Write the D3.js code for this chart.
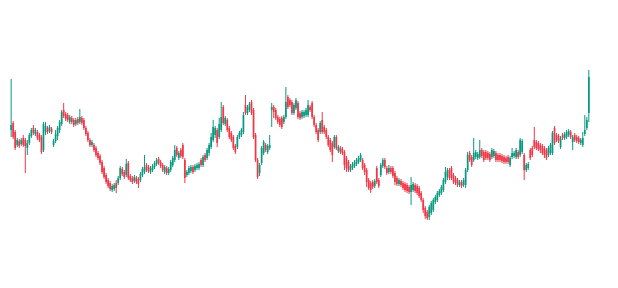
<!DOCTYPE html>
<html>
<head>
<meta charset="utf-8">
<script src="https://cdn.jsdelivr.net/npm/d3@7"></script>
<style>
  body { margin: 0; background: #ffffff; }
</style>
</head>
<body>
<svg></svg>
<script>
//candle values (open, high, low, close)
var open = [120,127,118,105,109,106,112,110,102,107,114,122,116,118,115,113,100,118,122,119,121,105,109,114,120,126,140,136,135,128,
  132,130,126,131,128,132,130,122,117,110,105,105,102,97,94,88,82,75,70,67,60,61,67,67,72,81,78,75,87,74,
  72,69,72,71,70,75,78,85,83,78,80,83,86,91,88,85,78,82,77,80,85,90,102,92,100,105,90,75,77,79,
  83,80,82,82,90,85,95,92,97,103,110,115,120,113,120,143,126,130,122,117,113,104,103,113,115,118,145,137,140,148,
  140,115,90,77,87,97,105,98,102,140,143,140,133,131,132,128,133,153,150,148,137,142,147,137,133,134,135,135,143,147,
  133,125,120,118,130,123,120,113,110,107,103,113,99,102,101,98,92,88,80,82,84,86,88,90,90,85,80,70,67,68,
  64,82,70,75,84,90,82,78,82,82,77,72,66,69,67,66,65,63,58,60,65,64,62,57,50,42,38,33,37,40,
  48,50,55,57,60,68,73,80,82,75,72,70,65,68,65,65,80,97,93,90,93,92,93,100,98,98,97,96,93,94,
  97,95,95,94,93,92,93,85,93,94,93,98,95,98,95,80,82,100,102,110,108,107,105,104,102,100,95,97,97,122,
  115,114,103,115,112,113,115,118,108,115,113,112,107,105,116,122,137];
var high = [171,129,120,112,111,112,115,112,110,117,122,125,122,120,117,115,128,128,124,125,123,111,120,124,130,140,147,138,137,135,
  134,132,132,133,141,134,132,124,119,112,110,107,104,99,96,90,84,77,72,69,66,67,70,74,84,83,80,91,89,76,
  74,75,74,73,78,83,95,87,85,84,86,89,92,93,90,87,85,84,83,90,94,105,104,99,102,107,92,80,84,85,
  85,86,87,88,92,95,97,102,107,117,130,124,122,132,148,145,134,132,124,119,115,106,115,119,122,138,155,145,148,150,
  142,117,92,87,104,110,107,106,115,147,145,142,135,133,134,135,163,155,152,150,147,152,149,139,140,140,142,150,145,149,
  135,127,122,129,138,125,122,115,112,109,115,115,105,104,103,100,94,90,86,88,90,92,94,97,92,87,82,72,69,70,
  71,84,72,87,92,92,84,85,84,84,79,74,72,71,69,68,67,65,73,68,67,66,64,59,52,44,40,45,49,52,
  55,59,61,65,72,83,82,82,84,77,74,72,70,70,72,82,98,99,95,112,100,98,110,102,100,100,99,98,102,101,
  99,97,97,96,95,94,95,94,102,99,102,100,112,111,97,87,88,102,104,123,110,109,107,106,104,102,104,107,119,124,
  117,116,114,117,118,120,121,120,115,117,115,114,112,118,135,133,180];
var low = [113,111,100,103,102,104,103,77,95,105,112,115,114,110,108,96,98,115,116,117,116,103,107,110,117,124,132,129,128,126,
  126,123,124,125,126,125,120,114,108,103,103,98,93,90,85,76,71,66,62,59,58,59,57,65,70,74,71,73,70,68,
  66,67,66,62,68,73,76,78,77,76,78,81,84,85,82,78,76,75,75,78,83,88,93,90,92,91,67,73,75,77,
  76,78,80,80,83,83,88,90,94,101,108,112,103,111,118,125,124,118,111,108,100,96,101,111,113,116,135,135,138,135,
  111,88,71,74,85,95,98,96,100,123,132,130,126,123,121,126,131,141,143,135,135,140,131,130,131,132,133,133,138,131,
  123,116,108,116,116,116,111,103,98,88,101,100,97,96,95,80,78,78,78,80,82,84,86,88,80,75,63,60,57,61,
  62,66,62,73,82,81,75,76,76,72,65,64,64,63,60,58,57,56,45,58,57,55,52,48,37,31,30,30,35,38,
  46,48,53,55,58,66,70,70,70,66,65,63,63,62,63,62,78,88,83,88,91,90,91,92,88,90,90,88,91,92,
  88,88,88,87,86,86,86,83,91,92,91,91,93,96,70,78,80,90,93,101,100,99,97,95,92,90,93,95,95,105,
  108,107,101,110,110,111,113,111,100,108,107,106,105,103,114,120,128];
var close = [125,113,102,110,104,110,105,104,107,115,120,117,120,112,110,98,126,124,118,123,118,109,116,122,128,138,134,131,130,133,
  128,125,130,127,133,127,122,116,110,105,108,100,95,92,87,78,73,68,64,61,64,65,62,72,82,76,73,86,72,70,
  68,73,68,66,76,81,83,80,79,82,84,87,90,87,84,80,83,77,81,88,92,100,95,97,94,93,72,78,82,83,
  78,84,85,86,85,93,90,100,105,113,123,122,107,126,133,127,132,120,113,110,102,98,113,117,120,135,137,143,146,137,
  113,90,73,85,102,108,100,104,105,143,138,132,128,125,123,133,148,143,145,137,145,150,133,132,138,138,140,145,140,133,
  125,118,110,127,118,118,113,105,100,95,113,102,103,98,97,85,82,80,84,86,88,90,92,95,82,78,68,62,60,63,
  69,68,64,85,90,83,77,82,78,74,68,66,70,65,62,60,59,58,65,66,59,57,54,50,40,34,32,43,47,50,
  53,57,59,63,70,78,80,72,72,68,67,65,68,64,70,80,95,90,85,97,98,96,100,94,90,92,92,90,100,99,
  90,90,90,89,88,88,88,92,97,97,100,93,110,109,80,85,86,92,95,103,102,101,100,97,95,92,102,105,117,107,
  110,109,112,112,116,118,119,113,113,110,109,108,110,112,120,130,173];

//svg size
const width = 618;
const height = 288;

var svg = d3.select('svg');
svg.attr('width', width)
   .attr('height', height);

//colours
var up_col = '#089981';   //green for rising candles
var down_col = '#f23645'; //red for falling candles

//scales
var xScale = d3.scaleBand()
    .domain(d3.range(open.length))
    .range([10, 590])
    .padding(0.15);

var yScale = d3.scaleLinear()
    .domain([d3.min(low), d3.max(high)])
    .range([220, 70]);

var candles = svg.append('g').attr('class', 'candles');

for (var i = 0; i < open.length; i++) {
    var col = close[i] >= open[i] ? up_col : down_col;
    var cx = xScale(i) + xScale.bandwidth() / 2;

    //wick
    candles.append('line')
           .attr('x1', cx)
           .attr('x2', cx)
           .attr('y1', yScale(high[i]))
           .attr('y2', yScale(low[i]))
           .attr('stroke', col)
           .attr('stroke-width', 1);

    //body
    var bodyTop = yScale(Math.max(open[i], close[i]));
    var bodyBottom = yScale(Math.min(open[i], close[i]));
    candles.append('rect')
           .attr('x', xScale(i))
           .attr('y', bodyTop)
           .attr('width', xScale.bandwidth())
           .attr('height', Math.max(1, bodyBottom - bodyTop))
           .attr('fill', col);
}
</script>
</body>
</html>
